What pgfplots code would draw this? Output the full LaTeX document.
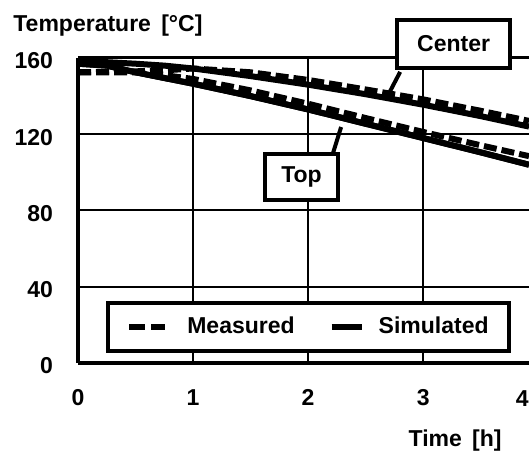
\documentclass[border=0pt]{standalone}
\usepackage{fontspec}
\setmainfont{Liberation Sans}
\usepackage{pgfplots}
\pgfplotsset{compat=1.18}

\pgfplotstableread{
t     T
0     158
0.25  157.8
0.5   157
0.75  156
1     154.5
1.5   150.5
2     146
2.5   141
3     135.5
3.5   129.5
3.92  124
}\centersim
\pgfplotstableread{
t     T
0     152.5
0.5   153
0.75  153.5
1     154.5
1.5   152.5
2     148.5
2.5   143.5
3     138.3
3.5   132.3
3.92  127
}\centermeas
\pgfplotstableread{
t     T
0     157
0.25  156
0.5   152.5
0.75  149.5
1     146.5
1.5   140
2     133
2.5   125.5
3     118
3.5   110.5
3.92  104
}\topsim
\pgfplotstableread{
t     T
0     152.5
0.5   152.5
0.75  151
1     149
1.5   143
2     136
2.5   128.5
3     121.2
3.5   114.2
3.92  108.5
}\topmeas

\newcommand{\lbl}{\fontsize{11.5}{13}\selectfont\bfseries}
\pgfplotsset{
  legline/.style={legend image code/.code={\draw[##1] (0pt,0pt) -- (#1,0pt);}},
  legdash/.style={legend image code/.code={\draw[##1, dash pattern=on 8pt off 3pt] (0pt,0pt) -- (18pt,0pt);}},
  meas/.style={line width=3pt, dash pattern=on 6.5pt off 2.5pt},
  sim/.style={line width=3pt},
}

\begin{document}
\begin{tikzpicture}
\begin{axis}[
  scale only axis,
  width=225.5pt, height=152.5pt,
  xmin=0, xmax=3.92, ymin=0, ymax=160,
  xtick={0,1,2,3,4}, ytick={0,40,80,120,160},
  axis lines*=left,
  axis line style={line width=2pt},
  major tick length=0pt,
  grid=major,
  major grid style={black, line width=1pt},
  clip=false,
  /pgf/number format/assume math mode=true,
  tick label style={font=\lbl},
  xticklabel style={yshift=-9.8pt},
  yticklabel style={xshift=-9pt, yshift=-1.5pt},
  legend columns=2,
  legend style={at={(0.511,0.118)}, anchor=center, draw=black,
    line width=2pt, fill=white, font=\lbl,
    inner xsep=9pt, inner ysep=7pt,
    nodes={inner sep=0pt}, /tikz/column sep=0pt},
]
  \addplot[sim, forget plot] table {\centersim};
  \addplot[sim, forget plot] table {\topsim};
  \addplot[meas, legdash] table {\centermeas};
  \addlegendentry{\rule{9.5pt}{0pt}Measured\rule{17pt}{0pt}}
  \addplot[sim, legline=15pt] table {\topsim};
  \addlegendentry{\rule{7pt}{0pt}Simulated\rule{1pt}{0pt}}
  \addplot[meas, forget plot] table {\topmeas};

  \draw[line width=1.5pt] (rel axis cs:0,1) -- (rel axis cs:1,1);
  \draw[line width=2pt] (axis cs:2.8,152.7) -- (axis cs:2.687,139.6);
  \draw[line width=2pt] (axis cs:2.217,110.2) -- (axis cs:2.287,123.8);
  \node[draw, line width=2.2pt, fill=white, minimum width=56.5pt, minimum height=24pt,
    inner sep=0pt, font=\lbl] at (axis cs:3.265,167.4) {Center};
  \node[draw, line width=2.2pt, fill=white, minimum width=36.5pt, minimum height=23pt,
    inner sep=0pt, font=\lbl] at (axis cs:1.943,97.6) {Top};
  % tick label of the x=4 gridline, which falls at the right edge
  \node[anchor=north east, font=\lbl, inner sep=0pt, yshift=-13.5pt] at (rel axis cs:1,0) {4};

  \coordinate (O) at (rel axis cs:0,0);
  \node[anchor=base west, inner sep=0pt, font=\lbl] at ([xshift=-32.5pt, yshift=165.5pt]O)
    {Temperature\hspace{0.45em}[°C]};
  \node[anchor=base east, inner sep=0pt, font=\lbl] at ([xshift=212pt, yshift=-42pt]O)
    {Time\hspace{0.45em}[h]};
\end{axis}
\pgfresetboundingbox
\path ([xshift=-39pt, yshift=-45pt]O) rectangle ++(264.5pt,226.5pt);
\end{tikzpicture}
\end{document}
